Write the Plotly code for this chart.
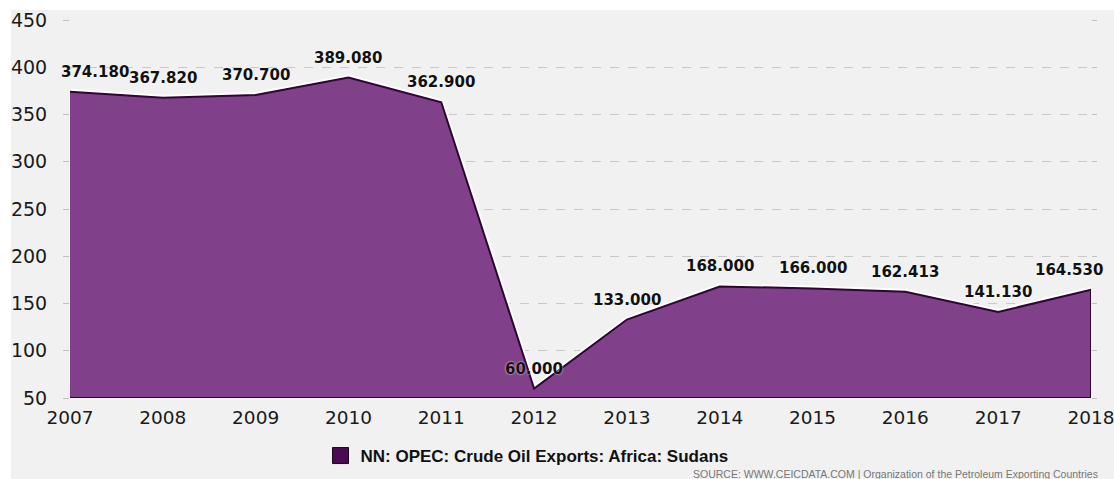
import plotly.graph_objects as go

YEARS = [2007, 2008, 2009, 2010, 2011, 2012, 2013, 2014, 2015, 2016, 2017, 2018]
VALUES = [374.180, 367.820, 370.700, 389.080, 362.900, 60.000, 133.000, 168.000, 166.000, 162.413, 141.130, 164.530]
LABELS = ["%.3f" % v for v in VALUES]
Y_TICKS = [50, 100, 150, 200, 250, 300, 350, 400, 450]
SERIES_NAME = "NN: OPEC: Crude Oil Exports: Africa: Sudans"
SOURCE = "SOURCE: WWW.CEICDATA.COM | Organization of the Petroleum Exporting Countries"
Y_MIN, Y_MAX = 50, 450

W, H = 1114, 479
ML, MR, MT, MB = 70, 23, 20, 81
PW, PH = W - ML - MR, H - MT - MB

def px_x(px):
    return (px - ML) / PW

def px_y(py):
    return (H - MB - py) / PH

BG = "#f1f1f1"
FILL = "#81418a"
LINE = "#2e0533"

fig = go.Figure()

# closed area polygon (data + baseline at axis minimum)
poly_x = YEARS + [YEARS[-1], YEARS[0]]
poly_y = VALUES + [Y_MIN, Y_MIN]
fig.add_trace(go.Scatter(x=YEARS, y=VALUES, mode="lines",
                         line=dict(color="white", width=6),
                         hoverinfo="skip", showlegend=False, cliponaxis=False))
fig.add_trace(go.Scatter(x=poly_x, y=poly_y, mode="lines", fill="toself",
                         fillcolor=FILL, line=dict(color=LINE, width=2),
                         showlegend=False, cliponaxis=False))

# legend entry
fig.add_trace(go.Scatter(x=[None], y=[None], mode="markers", name=SERIES_NAME,
                         marker=dict(symbol="square", size=17, color="#4a0b52",
                                     line=dict(color="#1e0222", width=1))))

# right-side tick marks
fig.add_trace(go.Scatter(x=[None], y=[None], yaxis="y2", showlegend=False))

annotations = []
for i, (yr, v, lab) in enumerate(zip(YEARS, VALUES, LABELS)):
    xs = 0
    if i == 0:
        xs = 25
    elif i == len(YEARS) - 1:
        xs = -22
    annotations.append(dict(x=yr, y=v, xref="x", yref="y", text=lab, showarrow=False,
                            xanchor="center", yanchor="bottom", yshift=9, xshift=xs,
                            font=dict(family="DejaVu Sans", size=15, color="#111",
                                      weight="bold", shadow="0px 0px 2px white")))
annotations.append(dict(text=SOURCE, xref="paper", yref="paper",
                        x=px_x(1100), y=px_y(474), xanchor="right", yanchor="middle",
                        showarrow=False,
                        font=dict(family="Liberation Sans", size=10.5, color="#777")))

fig.update_layout(
    width=W, height=H,
    margin=dict(l=ML, r=MR, t=MT, b=MB, autoexpand=False),
    paper_bgcolor="white",
    plot_bgcolor=BG,
    font=dict(family="DejaVu Sans", color="#222"),
    xaxis=dict(range=[YEARS[0], YEARS[-1]], tickmode="array", tickvals=YEARS,
               ticktext=[str(y) for y in YEARS], showgrid=False, zeroline=False,
               tickfont=dict(size=18.5, color="#1a1a1a"), ticks="", ticklabelstandoff=6,
               showline=False, automargin=False, ticklabeloverflow="allow"),
    yaxis=dict(range=[Y_MIN, Y_MAX], tickmode="array", tickvals=Y_TICKS,
               showgrid=True, gridcolor="#c9c9c9", griddash="dash", gridwidth=1,
               zeroline=False, ticks="outside", ticklen=6, tickcolor="#c0c0c0",
               tickfont=dict(size=19, color="#1a1a1a"), ticklabelstandoff=12,
               automargin=False, ticklabeloverflow="allow"),
    yaxis2=dict(range=[Y_MIN, Y_MAX], overlaying="y", side="right",
                tickmode="array", tickvals=Y_TICKS, showticklabels=False,
                ticks="outside", ticklen=5, tickcolor="#c0c0c0", showgrid=False,
                zeroline=False, automargin=False),
    legend=dict(orientation="h", x=px_x(527), y=px_y(456), xanchor="center",
                yanchor="middle", bgcolor="rgba(0,0,0,0)",
                font=dict(family="Liberation Sans", size=17, color="#111", weight="bold"),
                itemwidth=30),
    shapes=[dict(type="rect", xref="paper", yref="paper",
                 x0=px_x(11), x1=px_x(W + 5), y0=px_y(H + 5), y1=px_y(10),
                 fillcolor=BG, line=dict(width=0), layer="below")],
    annotations=annotations,
)

fig.write_html("out.html", config={"displayModeBar": False},
               post_script="document.body.style.margin='0';document.body.style.overflow='hidden';")
